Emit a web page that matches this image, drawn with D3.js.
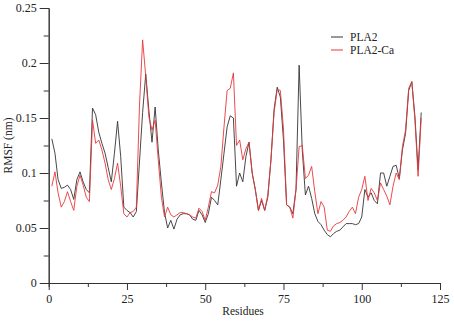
<!DOCTYPE html>
<html>
<head>
<meta charset="utf-8">
<script src="https://cdn.jsdelivr.net/npm/d3@7"></script>
<style>
  body { margin: 0; background: #fff; }
  text { font-family: "Liberation Serif", "DejaVu Serif", serif; }
</style>
</head>
<body>
<script>
var width = 454, height = 322;
var margin = {left: 48.7, right: 14, top: 8, bottom: 39};

var seriesNames = ["PLA2", "PLA2-Ca"];
var seriesColors = ["#333333", "#e8383a"];

var xTicks = [0, 25, 50, 75, 100, 125];
var xMinor = [12.5, 37.5, 62.5, 87.5, 112.5];
var yTicks = [0, 0.05, 0.1, 0.15, 0.2, 0.25];
var yTickLabels = ["0", "0.05", "0.1", "0.15", "0.2", "0.25"];
var yMinor = [0.025, 0.075, 0.125, 0.175, 0.225];

// residue numbers 1..119
var residues = d3.range(1, 120);

var pla2 = [
  0.131, 0.118, 0.094, 0.086, 0.087, 0.089, 0.085, 0.076, 0.094, 0.101,
  0.092, 0.085, 0.082, 0.159, 0.153, 0.137, 0.127, 0.118, 0.105, 0.092,
  0.118, 0.147, 0.115, 0.069, 0.066, 0.064, 0.060, 0.065, 0.110, 0.155,
  0.190, 0.157, 0.128, 0.160, 0.121, 0.091, 0.064, 0.050, 0.057, 0.049,
  0.058, 0.062, 0.063, 0.063, 0.062, 0.058, 0.057, 0.066, 0.062, 0.055,
  0.063, 0.078, 0.075, 0.071, 0.094, 0.118, 0.142, 0.152, 0.150, 0.088,
  0.100, 0.092, 0.115, 0.128, 0.100, 0.085, 0.066, 0.075, 0.066, 0.078,
  0.112, 0.158, 0.178, 0.169, 0.130, 0.071, 0.069, 0.063, 0.085, 0.198,
  0.121, 0.080, 0.088, 0.077, 0.063, 0.056, 0.053, 0.048, 0.044, 0.042,
  0.045, 0.047, 0.048, 0.051, 0.054, 0.054, 0.054, 0.053, 0.054, 0.060,
  0.085, 0.078, 0.082, 0.075, 0.072, 0.100, 0.100, 0.088, 0.097, 0.106,
  0.107, 0.095, 0.121, 0.136, 0.175, 0.183, 0.151, 0.103, 0.155
];

var pla2Ca = [
  0.088, 0.101, 0.082, 0.069, 0.074, 0.083, 0.074, 0.066, 0.088, 0.098,
  0.089, 0.078, 0.074, 0.148, 0.127, 0.130, 0.121, 0.109, 0.094, 0.085,
  0.095, 0.109, 0.088, 0.063, 0.060, 0.064, 0.065, 0.069, 0.161, 0.221,
  0.188, 0.151, 0.139, 0.148, 0.112, 0.078, 0.060, 0.069, 0.062, 0.060,
  0.062, 0.064, 0.064, 0.063, 0.062, 0.060, 0.059, 0.068, 0.065, 0.057,
  0.069, 0.083, 0.082, 0.089, 0.106, 0.142, 0.175, 0.177, 0.191, 0.125,
  0.130, 0.112, 0.122, 0.128, 0.100, 0.085, 0.066, 0.077, 0.066, 0.080,
  0.112, 0.155, 0.176, 0.175, 0.140, 0.071, 0.069, 0.059, 0.085, 0.124,
  0.125, 0.095, 0.098, 0.106, 0.083, 0.063, 0.074, 0.069, 0.048, 0.047,
  0.052, 0.054, 0.055, 0.057, 0.060, 0.065, 0.069, 0.063, 0.078, 0.085,
  0.097, 0.075, 0.086, 0.082, 0.075, 0.091, 0.085, 0.079, 0.071, 0.088,
  0.100, 0.094, 0.124, 0.139, 0.177, 0.183, 0.148, 0.097, 0.150
];

var svg = d3.select("body")
            .append("svg")
            .attr("width", width)
            .attr("height", height);

var x = d3.scaleLinear()
          .domain([0, 125])
          .range([margin.left, width - margin.right]);

var y = d3.scaleLinear()
          .domain([0, 0.25])
          .range([height - margin.bottom, margin.top]);

// minor ticks first, no labels
svg.append("g")
   .attr("transform", "translate(0," + y(0) + ")")
   .call(d3.axisBottom(x).tickValues(xMinor).tickSize(4).tickFormat(""));
svg.append("g")
   .attr("transform", "translate(" + x(0) + ",0)")
   .call(d3.axisLeft(y).tickValues(yMinor).tickSize(5).tickFormat(""));

svg.append("g")
   .attr("class", "x axis")
   .attr("transform", "translate(0," + y(0) + ")")
   .call(d3.axisBottom(x).tickValues(xTicks).tickSize(7).tickSizeOuter(0).tickPadding(4));

svg.append("g")
   .attr("class", "y axis")
   .attr("transform", "translate(" + x(0) + ",0)")
   .call(d3.axisLeft(y).tickValues(yTicks).tickSize(9).tickSizeOuter(0).tickPadding(3)
         .tickFormat((d, i) => yTickLabels[i]));

svg.selectAll("g").attr("font-family", "'Liberation Serif', serif").attr("font-size", 12);
svg.selectAll(".domain, .tick line").attr("stroke", "#333");
svg.selectAll(".tick text").attr("fill", "#222");

svg.append("text")
   .attr("x", 243)
   .attr("y", 315)
   .attr("text-anchor", "middle")
   .attr("fill", "#222")
   .style("font-size", "11.5px")
   .text("Residues");

svg.append("text")
   .attr("transform", "translate(12," + y(0.125) + ") rotate(-90)")
   .attr("text-anchor", "middle")
   .attr("fill", "#222")
   .style("font-size", "11.5px")
   .text("RMSF (nm)");

var line = d3.line()
             .x((d, i) => x(residues[i]))
             .y(d => y(d));

[pla2, pla2Ca].forEach(function(s, k) {
  svg.append("path")
     .datum(s)
     .attr("fill", "none")
     .attr("stroke", seriesColors[k])
     .attr("stroke-width", 0.9)
     .attr("d", line);
});

var legend = svg.append("g").attr("transform", "translate(331,37)");
seriesNames.forEach(function(name, k) {
  legend.append("line")
        .attr("x1", 0).attr("x2", 12)
        .attr("y1", k * 13).attr("y2", k * 13)
        .attr("stroke", seriesColors[k]);
  legend.append("text")
        .attr("x", 19)
        .attr("y", k * 13 + 4)
        .attr("fill", "#222")
        .style("font-size", "11.5px")
        .text(name);
});
</script>
</body>
</html>
